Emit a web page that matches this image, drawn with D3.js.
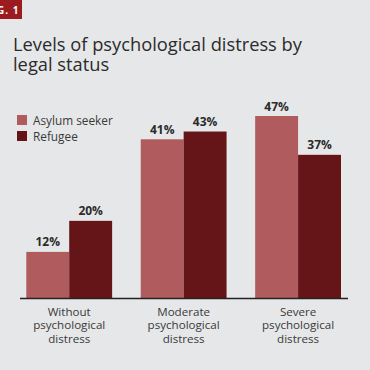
<!DOCTYPE html>
<html><head><meta charset="utf-8">
<script src="https://cdn.jsdelivr.net/npm/d3@7"></script>
<style>
html,body{margin:0;padding:0;background:#e6e7e8;}
svg{display:block;font-family:"Open Sans",sans-serif;}
</style></head>
<body>
<script>
const categories = [["Without","psychological","distress"],["Moderate","psychological","distress"],["Severe","psychological","distress"]];
const seriesNames = ["Asylum seeker","Refugee"];
const asylumSeeker = [12, 41, 47];
const refugee = [20, 43, 37];
const colors = ["#b05b5d","#651418"];

const W = 370, H = 370;
const svg = d3.select("body").append("svg").attr("width", W).attr("height", H);
svg.append("rect").attr("width", W).attr("height", H).attr("fill", "#e6e7e8");

// tag
svg.append("rect").attr("x",0).attr("y",0).attr("width",22).attr("height",19).attr("fill","#9a1c20");
svg.append("text").attr("x",-3).attr("y",13.5).attr("fill","#fff").attr("font-size",10).attr("font-weight",700).attr("letter-spacing",1).text("G. 1");

// title
const title = svg.append("text").attr("x",13).attr("fill","#2b2b2b").attr("font-size",18.3).attr("font-weight",500);
title.append("tspan").attr("x",13).attr("y",51).text("Levels of psychological distress by");
title.append("tspan").attr("x",13).attr("y",71).text("legal status");

// legend
seriesNames.forEach((n,i)=>{
  const g = svg.append("g").attr("transform",`translate(17,${115+i*16})`);
  g.append("rect").attr("width",10).attr("height",10).attr("fill",colors[i]);
  g.append("text").attr("x",16).attr("y",9.5).attr("font-size",11.8).attr("fill","#3a3a3a").text(n);
});

const x0 = d3.scaleBand().domain(d3.range(categories.length)).range([26.3, 341]).paddingInner(0.25).paddingOuter(0);
const x1 = d3.scaleBand().domain([0,1]).range([0, x0.bandwidth()]);
const y = d3.scaleLinear().domain([0, 47]).range([298.5, 116]);

const data = categories.map((c,i)=>({i, vals:[asylumSeeker[i], refugee[i]]}));
const groups = svg.selectAll("g.grp").data(data).join("g").attr("class","grp")
  .attr("transform", d=>`translate(${x0(d.i)},0)`);
groups.selectAll("rect").data(d=>d.vals).join("rect")
  .attr("x",(v,j)=>x1(j)).attr("width",x1.bandwidth())
  .attr("y",v=>y(v)).attr("height",v=>y(0)-y(v)).attr("fill",(v,j)=>colors[j]);
groups.selectAll("text.val").data(d=>d.vals).join("text").attr("class","val")
  .attr("x",(v,j)=>x1(j)+x1.bandwidth()/2).attr("y",v=>y(v)-5.5)
  .attr("text-anchor","middle").attr("font-size",12).attr("font-weight",700).attr("fill","#2b2b2b")
  .text(v=>v+"%");

// axis
const axis = d3.axisBottom(x0).tickSize(0).tickFormat("");
const ax = svg.append("g").attr("transform","translate(0,298.5)").call(axis);
ax.select(".domain").remove();
svg.append("line").attr("x1",20).attr("x2",348).attr("y1",298.5).attr("y2",298.5).attr("stroke","#222").attr("stroke-width",1.5);

categories.forEach((lines,i)=>{
  const t = svg.append("text").attr("text-anchor","middle").attr("font-size",11.6).attr("fill","#3a3a3a");
  lines.forEach((l,k)=>t.append("tspan").attr("x",x0(i)+x0.bandwidth()/2).attr("y",316+k*13.3).text(l));
});
</script>
</body></html>
